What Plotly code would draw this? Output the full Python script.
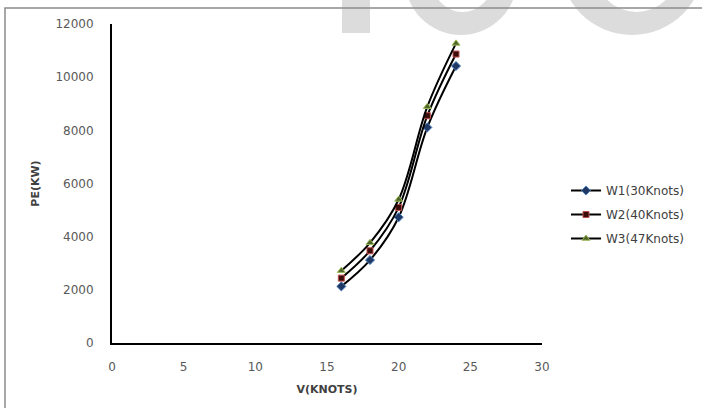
import plotly.graph_objects as go

speed = [16, 18, 20, 22, 24]
w1 = [2130, 3120, 4730, 8110, 10420]
w2 = [2440, 3470, 5100, 8550, 10870]
w3 = [2720, 3770, 5400, 8890, 11270]
names = ["W1(30Knots)", "W2(40Knots)", "W3(47Knots)"]
x_ticks = [0, 5, 10, 15, 20, 25, 30]
y_ticks = [0, 2000, 4000, 6000, 8000, 10000, 12000]

W, H = 702, 408
L, R, T, B = 112, 542, 24, 343


def px(x):
    return (x - L) / (R - L)


def py(y):
    return (B - y) / (B - T)


fig = go.Figure()
styles = [
    dict(symbol="diamond", color="#1F3864", line=dict(color="#4F81BD", width=1), size=7),
    dict(symbol="square", color="#3a0d0c", line=dict(color="#C0504D", width=1), size=6),
    dict(symbol="triangle-up", color="#4F6228", line=dict(color="#9BBB59", width=1), size=7),
]
for i, (nm, ys) in enumerate(zip(names, [w1, w2, w3])):
    fig.add_trace(go.Scatter(
        x=speed, y=ys, name=nm, mode="lines+markers",
        line=dict(color="black", width=2, shape="spline", smoothing=1),
        marker=styles[i], legendgroup=nm,
    ))

wm = "#dcdcdc"
shapes = [
    dict(type="rect", xref="paper", yref="paper", x0=px(342), x1=px(370), y0=py(33), y1=py(-5),
         fillcolor=wm, line=dict(width=0), layer="below"),
    dict(type="circle", xref="paper", yref="paper", x0=px(405), x1=px(517), y0=py(35), y1=py(-77),
         fillcolor=wm, line=dict(width=0), layer="below"),
    dict(type="circle", xref="paper", yref="paper", x0=px(433), x1=px(492), y0=py(12), y1=py(-47),
         fillcolor="white", line=dict(width=0), layer="below"),
    dict(type="circle", xref="paper", yref="paper", x0=px(560), x1=px(704), y0=py(35), y1=py(-109),
         fillcolor=wm, line=dict(width=0), layer="below"),
    dict(type="circle", xref="paper", yref="paper", x0=px(595), x1=px(678), y0=py(12), y1=py(-71),
         fillcolor="white", line=dict(width=0), layer="below"),
    dict(type="path", xref="paper", yref="paper",
         path=f"M {px(5)},{py(410)} L {px(5)},{py(8)} L {px(704)},{py(8)}",
         line=dict(color="#8c8c8c", width=1.5), layer="above"),
]

fig.update_layout(
    width=W, height=H,
    margin=dict(l=L, r=W - R, t=T, b=H - B, pad=0),
    paper_bgcolor="white", plot_bgcolor="white",
    font=dict(family="DejaVu Sans", size=12, color="#595959"),
    shapes=shapes,
    showlegend=True,
    legend=dict(x=px(566), y=py(176), xanchor="left", yanchor="top",
                font=dict(family="DejaVu Sans", size=12, color="#404040"),
                traceorder="grouped", tracegroupgap=5, bgcolor="rgba(0,0,0,0)"),
    xaxis=dict(range=[0, 30], tickvals=x_ticks, ticktext=[str(v) for v in x_ticks],
               showline=True, linecolor="black", linewidth=2,
               showgrid=False, zeroline=False, ticks="", ticklabelstandoff=12,
               title=dict(text="<b>V(KNOTS)</b>", font=dict(size=11, color="#404040"), standoff=12)),
    yaxis=dict(range=[0, 12000], tickvals=y_ticks, ticktext=[str(v) for v in y_ticks],
               showline=True, linecolor="black", linewidth=2,
               showgrid=False, zeroline=False, ticks="", ticklabelstandoff=14,
               title=dict(text="<b>PE(KW)</b>", font=dict(size=11, color="#404040"), standoff=14)),
)

fig.write_html("out.html")
